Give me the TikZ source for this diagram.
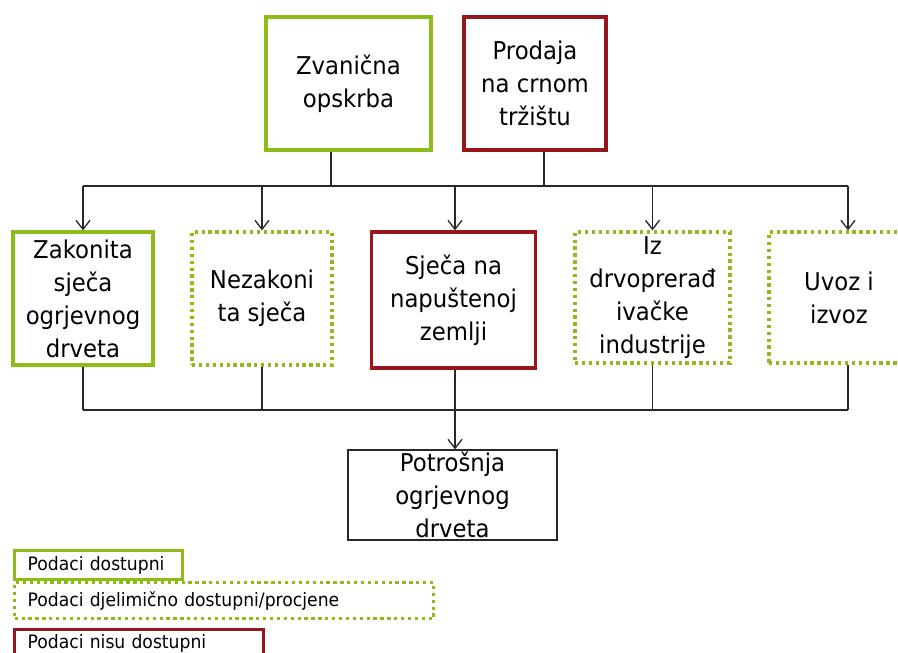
\documentclass[tikz,border=0pt]{standalone}
\usepackage{fontspec}
\setmainfont{DejaVu Sans}[FakeStretch=0.93]
\usetikzlibrary{arrows.meta,calc}
\definecolor{okgreen}{RGB}{141,188,24}
\definecolor{nored}{RGB}{150,22,28}
\definecolor{ink}{RGB}{40,40,40}
\begin{document}
\begin{tikzpicture}[x=1pt,y=-1pt,
  src/.style={rectangle, fill=white, inner sep=0pt, align=center,
    font=\fontsize{24.5}{33}\selectfont, line width=3.3pt},
  avail/.style={src, draw=okgreen},
  partial/.style={src, draw=okgreen, dash pattern=on 3.3pt off 3.6pt},
  noavail/.style={src, draw=nored},
  plainbox/.style={src, draw=ink, line width=1.3pt},
  legend/.style={anchor=north west, align=left, inner xsep=13pt, inner ysep=0pt,
    font=\fontsize{18.5}{20}\selectfont},
  link/.style={draw=ink, line width=1.3pt},
  arr/.style={link, -{Straight Barb[length=9pt,width=14pt,line width=1.3pt]}}]
\useasboundingbox (0,0) rectangle (898,653);
\fill[white] (0,0) rectangle (898,653);

% supply sources
\node[avail,   minimum width=165pt, minimum height=133pt] (zv) at (348.5,83.5) {Zvanična\\opskrba};
\node[noavail, minimum width=142pt, minimum height=133pt] (pr) at (535,83.5) {Prodaja\\na crnom\\tržištu};

% supply channels
\node[avail,   minimum width=140pt, minimum height=133pt] (zak) at (83,298.5) {Zakonita\\sječa\\ogrjevnog\\drveta};
\node[partial, minimum width=140pt, minimum height=133pt] (nez) at (262,298.5) {Nezakoni\\ta sječa};
\node[noavail, minimum width=164pt, minimum height=136pt] (sje) at (453.5,300) {Sječa na\\napuštenoj\\zemlji};
\node[partial, minimum width=155pt, minimum height=131pt] (iz)  at (652.5,297.5) {Iz\\drvoprerađ\\ivačke\\industrije};
\node[partial, minimum width=140pt, minimum height=131pt] (uv)  at (839,297.5) {Uvoz i\\izvoz};

% consumption
\node[plainbox, minimum width=209pt, minimum height=90pt] (pot) at (452.5,495) {Potrošnja\\ogrjevnog\\drveta};

% upper bus
\coordinate (busT) at (0,186);
\coordinate (tapZ) at (331,186);
\coordinate (tapP) at (544,186);
\coordinate (tapS) at (455,0);
\coordinate (tapU) at (848,0);
\draw[link] (tapZ |- zv.south) -- (tapZ);
\draw[link] (tapP |- pr.south) -- (tapP);
\draw[link] (zak.north |- busT) -- (tapU |- busT);
\foreach \n in {zak,nez,iz}
  \draw[arr] (\n.north |- busT) -- (\n.north);
\draw[arr] (tapS |- busT) -- (tapS |- sje.north);
\draw[arr] (tapU |- busT) -- (tapU |- uv.north);

% lower bus
\coordinate (busB) at (0,410);
\foreach \n in {zak,nez,iz}
  \draw[link] (\n.south) -- (\n.south |- busB);
\draw[link] (tapU |- uv.south) -- (tapU |- busB);
\draw[link] (zak.south |- busB) -- (tapU |- busB);
\draw[arr] (tapS |- sje.south) -- (tapS |- pot.north);

% legend
\node[avail, legend, minimum width=168pt, minimum height=29pt, text width=142pt] (lg1) at (13,549) {Podaci dostupni};
\node[partial, legend, minimum width=419pt, minimum height=36pt, text width=393pt] (lg2) at (13,581) {Podaci djelimično dostupni/procjene};
\node[noavail, legend, minimum width=249pt, minimum height=27pt, text width=223pt] (lg3) at (13,628) {Podaci nisu dostupni};
\end{tikzpicture}
\end{document}
